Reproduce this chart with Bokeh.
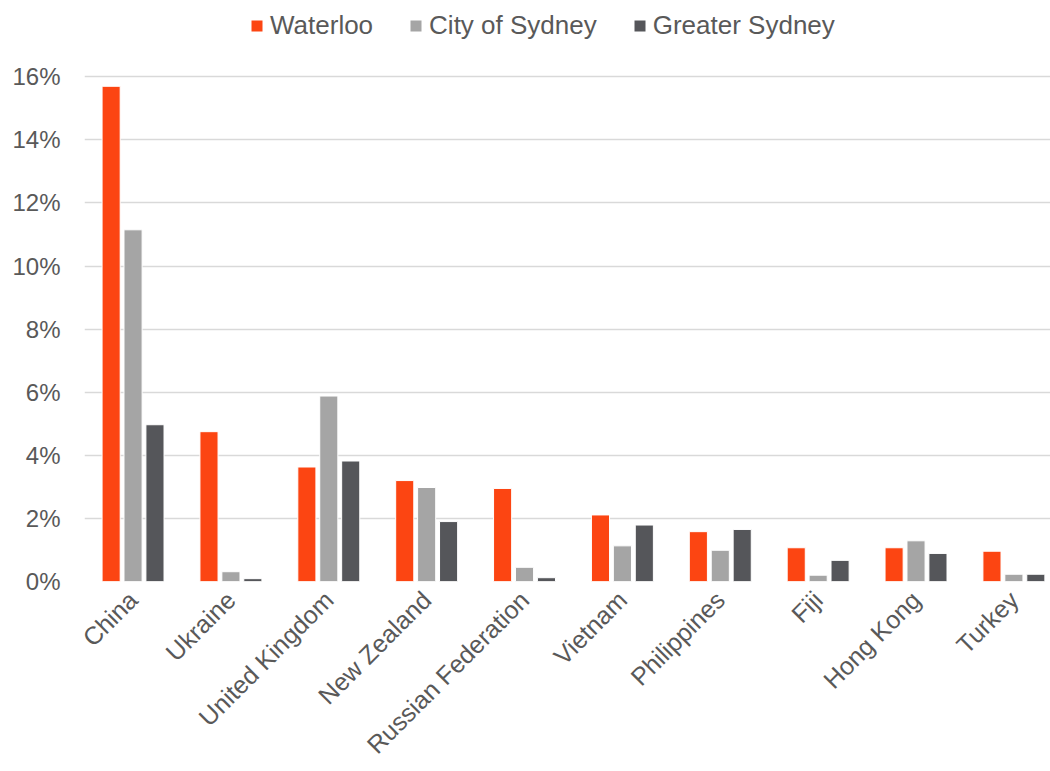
from bokeh.plotting import figure
from bokeh.models import (ColumnDataSource, Range1d, FixedTicker, PrintfTickFormatter,
                          Legend, LegendItem)
from bokeh.transform import dodge
from bokeh.embed import file_html
from bokeh.resources import INLINE
import math

categories = ["China", "Ukraine", "United Kingdom", "New Zealand", "Russian Federation",
              "Vietnam", "Philippines", "Fiji", "Hong Kong", "Turkey"]
waterloo = [15.7, 4.75, 3.63, 3.2, 2.95, 2.11, 1.58, 1.07, 1.07, 0.96]
city_of_sydney = [11.15, 0.31, 5.88, 2.98, 0.45, 1.13, 0.99, 0.2, 1.29, 0.23]
greater_sydney = [4.97, 0.09, 3.82, 1.9, 0.12, 1.79, 1.65, 0.67, 0.89, 0.23]
series_names = ["Waterloo", "City of Sydney", "Greater Sydney"]
colors = ["#FC4512", "#A5A5A5", "#55565A"]
y_ticks = [0, 2, 4, 6, 8, 10, 12, 14, 16]

FONT = "Liberation Sans"
TXT = "#595959"
GRID = "#D9D9D9"

src = ColumnDataSource(dict(
    x=list(range(len(categories))),
    w=waterloo, c=city_of_sydney, g=greater_sydney,
))

# frame reaches the top of the figure so the legend can sit above the 16% line
p = figure(width=1050, height=771, output_backend="svg", toolbar_location=None,
           x_range=Range1d(-0.496, 9.374), y_range=Range1d(0, 18.42),
           min_border_left=84, min_border_right=0, min_border_top=0,
           min_border_bottom=189)
p.outline_line_color = None
p.background_fill_color = "white"
p.border_fill_color = "white"

off = 0.224
bw = 0.185
renderers = []
for field, dx, col in zip(["w", "c", "g"], [-off, 0, off], colors):
    r = p.vbar(x=dodge("x", dx, range=p.x_range), top=field, width=bw, source=src,
               fill_color=col, line_color="white", line_width=1)
    renderers.append(r)

p.xaxis.ticker = FixedTicker(ticks=list(range(len(categories))))
p.xaxis.major_label_overrides = {i: c for i, c in enumerate(categories)}
p.xaxis.major_label_orientation = math.pi / 4
p.xaxis.major_tick_line_color = None
p.xaxis.minor_tick_line_color = None
p.xaxis.major_tick_out = 0
p.xaxis.major_tick_in = 0
p.xaxis.axis_line_color = None
p.xaxis.major_label_text_font = FONT
p.xaxis.major_label_text_font_size = "25px"
p.xaxis.major_label_text_color = TXT
p.xaxis.major_label_standoff = 14

p.yaxis.ticker = FixedTicker(ticks=y_ticks)
p.yaxis.formatter = PrintfTickFormatter(format="%d%%")
p.yaxis.major_tick_line_color = None
p.yaxis.minor_tick_line_color = None
p.yaxis.major_tick_out = 0
p.yaxis.major_tick_in = 0
p.yaxis.axis_line_color = None
p.yaxis.major_label_text_font = FONT
p.yaxis.major_label_text_font_size = "24px"
p.yaxis.major_label_text_color = TXT
p.yaxis.major_label_standoff = 24

p.xgrid.grid_line_color = None
p.ygrid.grid_line_color = GRID
p.ygrid.grid_line_width = 1.5

legend = Legend(items=[LegendItem(label=n, renderers=[r]) for n, r in zip(series_names, renderers)],
                orientation="horizontal", location=(165, 540),
                label_text_font=FONT, label_text_font_size="26px", label_text_color=TXT,
                glyph_width=15, glyph_height=15, label_standoff=6, spacing=35,
                padding=0, margin=0, border_line_color=None, background_fill_alpha=0)
p.add_layout(legend, "center")

open("out.html", "w").write(file_html(p, INLINE))
